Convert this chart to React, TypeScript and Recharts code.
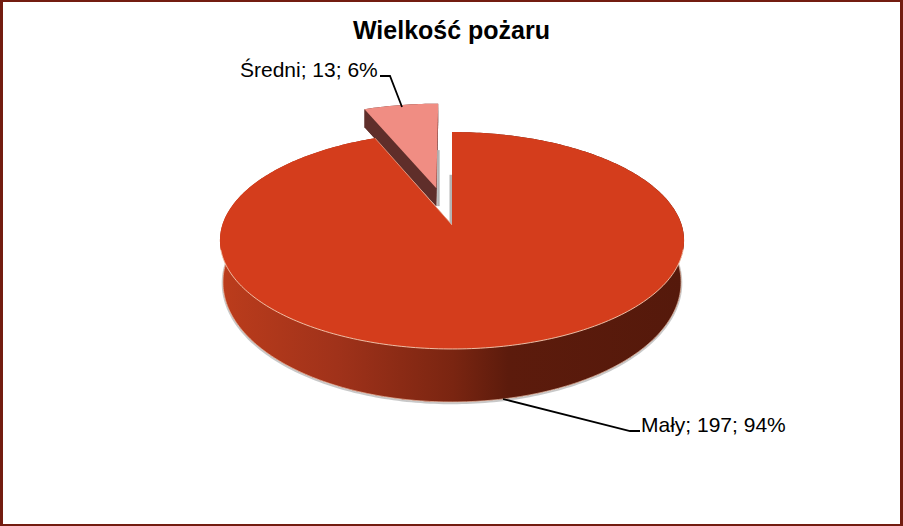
import React from "react";
import { PieChart, Pie } from "recharts";

const names = ["Średni", "Mały"];
const values = [13, 197];
const percents = ["6%", "94%"];

const chartData = names.map((name, i) => ({ name, value: values[i], percent: percents[i] }));
const total = values.reduce((a, b) => a + b, 0);
// Średni is drawn first so Mały covers it; together they start at the top of the pie
const startAngle = 90 + (values[0] / total) * 360;

// perspective of the tilted pie
const TILT = 1 / 7;
const SQUASH_X = 0.99;
const SQUASH_Y = 0.458;
const EXPLODE = 0.372;
const RAD = Math.PI / 180;

function project(cx: number, cy: number, r: number, s: number, c: number, depth = 0, scaleX = 1, scaleY = 1) {
  const w = 1 + TILT * c;
  return [cx + (r * SQUASH_X * scaleX * s) / w, cy + depth - (r * SQUASH_Y * scaleY * c) / w];
}

const toPath = (pts: number[][], close = true) =>
  "M" + pts.map((p) => `${p[0].toFixed(2)},${p[1].toFixed(2)}`).join("L") + (close ? "Z" : "");

function PieSlice(props: any) {
  const { cx, cy, outerRadius, startAngle: a0, endAngle: a1, index } = props;
  const isSmall = index === 0;
  const mid = ((a0 + a1) / 2) * RAD;
  const ox = isSmall ? EXPLODE * Math.cos(mid) : 0;
  const oy = isSmall ? EXPLODE * Math.sin(mid) : 0;
  const depth = isSmall ? 18 : 40;
  const scaleX = isSmall ? 1 : 0.987;
  const scaleY = isSmall ? 1 : 1.105;

  const unit: number[][] = [];
  const steps = Math.ceil(Math.abs(a0 - a1));
  for (let i = 0; i <= steps; i++) {
    const a = (a0 + ((a1 - a0) * i) / steps) * RAD;
    unit.push([Math.cos(a) + ox, Math.sin(a) + oy]);
  }
  const top = unit.map((u) => project(cx, cy, outerRadius, u[0], u[1]));
  const bottom = unit.map((u) => project(cx, cy, outerRadius, u[0], u[1], depth, scaleX, scaleY));
  const apex = project(cx, cy, outerRadius, ox, oy);
  const apexLow = project(cx, cy, outerRadius, ox, oy, depth, scaleX, scaleY);

  const ribbon = [...top, ...[...bottom].reverse()];
  const cutA = [apex, top[0], bottom[0], apexLow];
  const cutB = [apex, top[top.length - 1], bottom[bottom.length - 1], apexLow];
  const sideFill = isSmall ? "#5f2e2a" : "url(#sideShade)";
  const frontIdx = unit.map((u, i) => ({ u, i }));
  const frontTop = frontIdx.filter((d) => d.u[1] < -0.22).map((d) => top[d.i]);
  const frontBottom = frontIdx.filter((d) => d.u[1] < 0.1).map((d) => bottom[d.i]);

  // thin grey faces along the cut beside the gap
  const edge = isSmall ? top[top.length - 1] : top[0];
  const k = isSmall ? 0.45 : 0.54;
  const gx = isSmall ? 2.5 : -2.5;
  const sliverTop = [apex[0] + (edge[0] - apex[0]) * k, apex[1] + (edge[1] - apex[1]) * k];
  const sliverLow = isSmall ? apexLow[1] : apex[1];

  return (
    <g>
      {!isSmall && (
        <>
          <defs>
            <linearGradient id="sideShade" gradientUnits="userSpaceOnUse" x1={222} x2={684} y1={0} y2={0}>
              <stop offset="0" stopColor="#bb3c1c" />
              <stop offset="0.25" stopColor="#a0321a" />
              <stop offset="0.5" stopColor="#7a2511" />
              <stop offset="0.62" stopColor="#5c1b0c" />
              <stop offset="1" stopColor="#55190b" />
            </linearGradient>
          </defs>
          <path d={toPath(frontBottom, false)} fill="none" stroke="#9a9a9a" strokeOpacity={0.55} strokeWidth={2.5} transform="translate(0,1)" />
        </>
      )}
      <path d={toPath(ribbon)} fill={sideFill} />
      <path d={toPath(bottom.concat([apexLow]))} fill={sideFill} />
      <path d={toPath(cutA)} fill={sideFill} />
      <path d={toPath(cutB)} fill={sideFill} />
      {!isSmall && <path d={toPath(frontBottom, false)} fill="none" stroke="#eec3ad" strokeWidth={0.7} />}
      <path
        d={toPath([[sliverTop[0], sliverTop[1]], [sliverTop[0] + gx, sliverTop[1]], [sliverTop[0] + gx, sliverLow], [sliverTop[0], sliverLow]])}
        fill="#b4b4b4"
      />
      <path d={toPath(top.concat([apex]))} fill={isSmall ? "#f08d83" : "#d43d1c"} />
      {!isSmall && (
        <>
          <path d={toPath(frontTop, false)} fill="none" stroke="#f6cdb4" strokeWidth={0.9} />
          <path d={toPath([apex, top[top.length - 1]], false)} fill="none" stroke="#f2b097" strokeWidth={0.7} />
        </>
      )}
    </g>
  );
}

const labelFont = { fontFamily: "Liberation Sans, Arial, sans-serif", fontSize: 21, fill: "#000" };

function SliceLabel(props: any) {
  const { index, name, value } = props;
  const text = `${name}; ${value}; ${percents[index]}`;
  return index === 0 ? (
    <text x={240} y={77} {...labelFont}>{text}</text>
  ) : (
    <text x={641} y={432} {...labelFont}>{text}</text>
  );
}

function LeaderLine(props: any) {
  const pts = props.index === 0
    ? "380,76 390,76 402,107"
    : "503,399 630,431 640,431";
  return <polyline points={pts} fill="none" stroke="#000" strokeWidth={1.8} />;
}

export default function App() {
  return (
    <div
      style={{
        position: "absolute",
        left: 0,
        top: 0,
        width: 903,
        height: 526,
        background: "#fff",
        boxSizing: "border-box",
        border: "2px solid #731c10",
        borderRightWidth: 3,
        borderLeftWidth: 3,
      }}
    >
      <div
        style={{
          position: "absolute",
          left: -3,
          top: 14,
          width: 903,
          textAlign: "center",
          fontFamily: "Liberation Sans, Arial, sans-serif",
          fontWeight: "bold",
          fontSize: 25,
          color: "#000",
        }}
      >
        Wielkość pożaru
      </div>
      <div style={{ position: "absolute", left: -3, top: -2 }}>
        <PieChart width={903} height={526} margin={{ top: 0, right: 0, bottom: 0, left: 0 }}>
          <Pie
            data={chartData}
            dataKey="value"
            nameKey="name"
            cx={452}
            cy={225}
            outerRadius={232}
            startAngle={startAngle}
            endAngle={startAngle - 360}
            stroke="none"
            shape={PieSlice}
            label={SliceLabel}
            labelLine={LeaderLine}
            isAnimationActive={false}
          />
        </PieChart>
      </div>
    </div>
  );
}
